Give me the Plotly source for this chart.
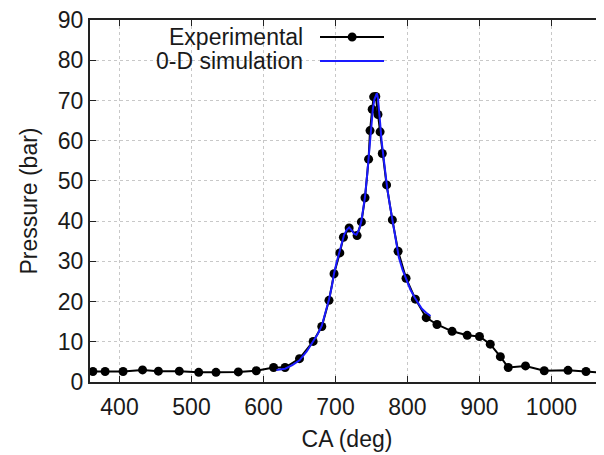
import plotly.graph_objects as go

# Experimental pressure trace (CA in deg, pressure in bar)
exp_ca = [363, 380, 405, 432, 454, 483, 510, 534, 565, 590, 614, 630, 650, 669,
          681, 691, 698, 706, 711, 719, 730, 736, 741, 746, 748, 751, 753, 756,
          759, 762, 765, 771, 779, 787, 798, 811, 826, 841, 862, 883, 900, 915,
          929, 940, 964, 990, 1023, 1048, 1080]
exp_p = [2.6, 2.6, 2.6, 3.0, 2.7, 2.7, 2.4, 2.4, 2.5, 2.8, 3.6, 3.6, 5.8, 10.1,
         13.8, 20.3, 26.9, 32.1, 36.0, 38.3, 36.4, 39.8, 45.8, 55.4, 62.5, 67.8, 70.9, 71.0,
         66.5, 62.2, 56.8, 49.0, 40.3, 32.5, 25.8, 20.6, 16.0, 14.3, 12.6, 11.6, 11.3, 9.4,
         6.3, 3.6, 4.0, 2.8, 2.9, 2.6, 2.2]

# 0-D simulation trace
sim_ca = [618, 630, 640, 650, 660, 669, 675, 681, 686, 691, 695, 698, 702, 706,
          709, 712, 716, 719, 723, 726, 729, 733, 736, 739, 741, 744, 746, 748,
          750, 752, 754, 756, 757.5, 759, 760.5, 762, 764, 767, 770, 772, 776,
          780, 784, 788, 793, 798, 804, 810, 815, 820, 826, 832]
sim_p = [3.0, 3.3, 4.2, 5.4, 7.6, 10.0, 11.8, 14.0, 17.0, 20.5, 23.8, 27.0, 30.0, 32.6,
         34.8, 36.6, 37.9, 38.4, 37.6, 36.8, 36.6, 38.0, 40.0, 43.5, 46.0, 51.5, 56.0, 61.0,
         65.0, 68.0, 70.2, 71.3, 71.8, 70.5, 68.0, 64.5, 60.0, 55.0, 50.5, 48.0, 43.5,
         39.5, 35.0, 31.0, 28.0, 25.5, 23.0, 21.0, 19.5, 18.2, 17.2, 16.4]

x_ticks = [400, 500, 600, 700, 800, 900, 1000]
y_ticks = [0, 10, 20, 30, 40, 50, 60, 70, 80, 90]

FONT = "Liberation Sans, Arial, sans-serif"
TXT = "#1a1a1a"
FS = 23
BLUE = "#1a1aff"

fig = go.Figure()
fig.add_trace(go.Scatter(x=exp_ca, y=exp_p, mode="lines+markers", name="Experimental",
                         line=dict(color="black", width=2),
                         marker=dict(color="black", size=9), showlegend=False))
fig.add_trace(go.Scatter(x=sim_ca, y=sim_p, mode="lines", name="0-D simulation",
                         line=dict(color=BLUE, width=2), showlegend=False))

# gnuplot-style legend: text right-aligned, sample to the right
leg_rows = [("Experimental", 0.953, "black", True), ("0-D simulation", 0.887, BLUE, False)]
for text, yy, col, dot in leg_rows:
    fig.add_annotation(x=0.418, y=yy, xref="paper", yref="paper", text=text,
                       showarrow=False, xanchor="right", yanchor="middle",
                       font=dict(family=FONT, size=FS, color=TXT))
    fig.add_shape(type="line", xref="paper", yref="paper", x0=0.4475, x1=0.572,
                  y0=yy, y1=yy, line=dict(color=col, width=2))
    if dot:
        fig.add_shape(type="circle", xref="paper", yref="paper",
                      x0=0.510 - 0.0087, x1=0.510 + 0.0087,
                      y0=yy - 0.0124, y1=yy + 0.0124,
                      fillcolor="black", line=dict(color="black", width=0))

fig.update_layout(
    width=596, height=447,
    margin=dict(l=82, r=0, t=12, b=73),
    paper_bgcolor="white", plot_bgcolor="white",
    font=dict(family=FONT, size=FS, color=TXT),
)
fig.update_xaxes(
    range=[359, 1073], tickvals=x_ticks, ticks="inside", ticklen=6,
    tickcolor="#222", showline=True, linecolor="#222", linewidth=2,
    mirror="ticks", showgrid=True, gridcolor="#c8c8c8", griddash="dot",
    gridwidth=1, zeroline=False, ticklabelstandoff=3,
    title=dict(text="CA (deg)", standoff=12, font=dict(size=FS)),
    tickfont=dict(size=FS),
)
fig.update_yaxes(
    range=[0, 90], tickvals=y_ticks, ticks="inside", ticklen=6,
    tickcolor="#222", showline=True, linecolor="#222", linewidth=2,
    mirror=False, showgrid=True, gridcolor="#c8c8c8", griddash="dot",
    gridwidth=1, zeroline=False, ticklabeloverflow="allow",
    title=dict(text="Pressure (bar)", standoff=14, font=dict(size=FS)),
    tickfont=dict(size=FS),
)

fig.write_html("out.html")
